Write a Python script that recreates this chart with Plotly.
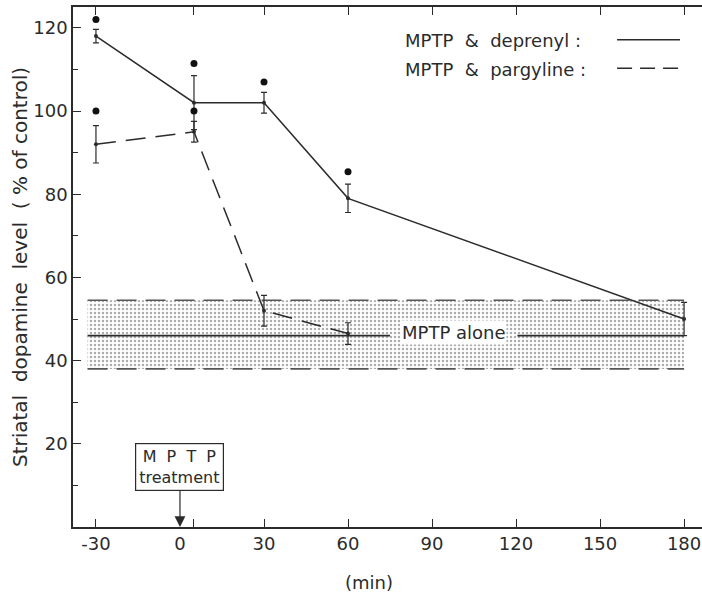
import plotly.graph_objects as go

# Time after MPTP treatment (min)
times = [-30, 5, 30, 60, 180]

# MPTP & deprenyl: striatal dopamine (% of control) with SEM
deprenyl_mean = [118, 102, 102, 79, 50]
deprenyl_sem = [1.6, 6.5, 2.5, 3.4, 4.0]

# MPTP & pargyline
pargyline_times = [-30, 5, 30, 60]
pargyline_mean = [92, 95, 52, 46.5]
pargyline_sem = [4.5, 2.5, 3.7, 2.6]

# Significance markers
sig_x = [-30, -30, 5, 5, 30, 60]
sig_y = [122, 100, 111.4, 100, 107, 85.4]

# MPTP alone reference band (mean and spread)
mptp_alone_mean = 46
mptp_alone_upper = 54.5
mptp_alone_lower = 38
band_start, band_end = -33, 180

# Axis ticks
x_label_vals = [-30, 0, 30, 60, 90, 120, 150, 180]
x_label_text = ["-30", "0", "30", "60", "90", "120", "150", "180"]
x_mark_vals = [-30, 5, 30, 60, 90, 120, 150, 180]
y_label_vals = [20, 40, 60, 80, 100, 120]
y_minor_vals = [10, 30, 50, 70, 90, 110]

INK = "#2b2b2b"
FONT = "DejaVu Sans"

fig = go.Figure()

# Dotted band for MPTP alone
fig.add_trace(go.Scatter(
    x=[band_start, band_end, band_end, band_start, band_start],
    y=[mptp_alone_lower, mptp_alone_lower, mptp_alone_upper, mptp_alone_upper, mptp_alone_lower],
    mode="lines", line=dict(width=0), fill="toself",
    fillcolor="rgba(255,255,255,0)",
    fillpattern=dict(shape=".", size=4, solidity=0.3, fgcolor="#5a5a5a", bgcolor="white"),
    hoverinfo="skip", showlegend=False,
))
for yv in (mptp_alone_upper, mptp_alone_lower):
    fig.add_trace(go.Scatter(
        x=[band_start, band_end], y=[yv, yv], mode="lines",
        line=dict(color="#555555", width=1.6, dash="20px,9px"),
        hoverinfo="skip", showlegend=False,
    ))
# Mean line, broken around its label
gap_left, gap_right = 75, 120.5
for seg in ([band_start, gap_left], [gap_right, band_end]):
    fig.add_trace(go.Scatter(
        x=seg, y=[mptp_alone_mean, mptp_alone_mean], mode="lines",
        line=dict(color=INK, width=1.6),
        hoverinfo="skip", showlegend=False,
    ))

# MPTP & pargyline
fig.add_trace(go.Scatter(
    x=pargyline_times, y=pargyline_mean, mode="lines+markers",
    line=dict(color=INK, width=1.5, dash="20px,10px"),
    marker=dict(size=4, color=INK),
    error_y=dict(type="data", array=pargyline_sem, color=INK, thickness=1.2, width=3),
    showlegend=False,
))

# MPTP & deprenyl
fig.add_trace(go.Scatter(
    x=times, y=deprenyl_mean, mode="lines+markers",
    line=dict(color=INK, width=1.5),
    marker=dict(size=4, color=INK),
    error_y=dict(type="data", array=deprenyl_sem, color=INK, thickness=1.2, width=3),
    showlegend=False,
))

# Significance dots
fig.add_trace(go.Scatter(
    x=sig_x, y=sig_y, mode="markers",
    marker=dict(size=7, color="#111111"),
    showlegend=False,
))

# Legend drawn as text with line samples on the right
legend_items = [("MPTP  &  deprenyl :", 0.935, "solid"), ("MPTP  &  pargyline :", 0.880, "15px,8px")]
for label, yp, dash in legend_items:
    fig.add_annotation(
        x=0.5246, y=yp, xref="paper", yref="paper", text=label,
        showarrow=False, xanchor="left", yanchor="middle",
        font=dict(family=FONT, size=18, color=INK),
    )
    fig.add_shape(
        type="line", xref="paper", yref="paper",
        x0=0.865, x1=0.965, y0=yp + 0.002, y1=yp + 0.002,
        line=dict(color=INK, width=1.5, dash=dash),
    )

# Label for the MPTP alone band
fig.add_annotation(
    x=97.5, y=mptp_alone_mean + 0.8, text="MPTP alone", showarrow=False,
    font=dict(family=FONT, size=18, color=INK),
    bgcolor="white", borderpad=1,
)

# MPTP treatment marker at time zero
fig.add_annotation(
    x=0, y=0, text="M  P  T  P<br>treatment",
    showarrow=True, arrowhead=2, arrowsize=1.8, arrowwidth=1.2, arrowcolor=INK,
    ax=0, ay=-60, standoff=0,
    bordercolor=INK, borderwidth=1.2, borderpad=3, bgcolor="white",
    font=dict(family=FONT, size=16, color=INK),
)

# x-axis title
fig.add_annotation(
    x=0.47, y=-0.107, xref="paper", yref="paper", text="(min)",
    showarrow=False, yanchor="middle",
    font=dict(family=FONT, size=18, color=INK),
)

fig.update_layout(
    width=702, height=598,
    margin=dict(l=73, r=0, t=7, b=71),
    paper_bgcolor="white", plot_bgcolor="white",
    font=dict(family=FONT, color=INK),
    showlegend=False,
)

fig.update_xaxes(
    range=[-38.2, 186.4],
    tickmode="array", tickvals=x_label_vals, ticktext=x_label_text,
    ticks="", showgrid=False, zeroline=False,
    showline=True, linecolor=INK, linewidth=1.5, mirror="ticks",
    tickfont=dict(family=FONT, size=18, color=INK),
    minor=dict(tickmode="array", tickvals=x_mark_vals, ticks="inside",
               ticklen=8, tickwidth=1.3, tickcolor=INK, showgrid=False),
)

fig.update_yaxes(
    range=[0, 125],
    tickmode="array", tickvals=y_label_vals,
    ticks="inside", ticklen=8, tickwidth=1.3, tickcolor=INK,
    showgrid=False, zeroline=False,
    showline=True, linecolor=INK, linewidth=1.5,
    tickfont=dict(family=FONT, size=18, color=INK),
    minor=dict(tickmode="array", tickvals=y_minor_vals, ticks="inside",
               ticklen=5, tickwidth=1.2, tickcolor=INK, showgrid=False),
    title=dict(text="Striatal  dopamine  level  ( % of control)", standoff=0,
               font=dict(family=FONT, size=20, color=INK)),
)

fig.write_html("out.html")
